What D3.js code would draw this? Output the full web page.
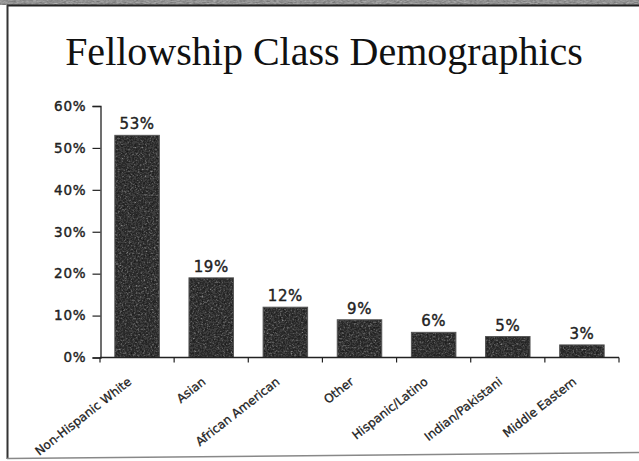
<!DOCTYPE html>
<html>
<head>
<meta charset="utf-8">
<script src="https://cdn.jsdelivr.net/npm/d3@7"></script>
<style>
  html, body { margin: 0; padding: 0; background: #fff; }
  svg { display: block; }
</style>
</head>
<body>
<svg id="chart" width="639" height="461"></svg>
<script>
// Fellowship class make-up, share of the class by group
const categories = ["Non-Hispanic White", "Asian", "African American", "Other",
                    "Hispanic/Latino", "Indian/Pakistani", "Middle Eastern"];
const shares = [0.53, 0.19, 0.12, 0.09, 0.06, 0.05, 0.03];
const valueLabels = ["53%", "19%", "12%", "9%", "6%", "5%", "3%"];
const yTickValues = [0, 0.1, 0.2, 0.3, 0.4, 0.5, 0.6];
const chartTitle = "Fellowship Class Demographics";

const svg = d3.select("#chart");
const W = 639, H = 461;

const defs = svg.append("defs");

// speckled dark fill for the bars
const grain = defs.append("filter").attr("id", "grain")
  .attr("color-interpolation-filters", "sRGB")
  .attr("x", 0).attr("y", 0).attr("width", 1).attr("height", 1);
grain.append("feTurbulence").attr("type", "fractalNoise")
  .attr("baseFrequency", 0.55).attr("numOctaves", 3).attr("seed", 4).attr("result", "noise");
grain.append("feColorMatrix").attr("in", "noise").attr("type", "matrix")
  .attr("values", "0.33 0.33 0.33 0 0  0.33 0.33 0.33 0 0  0.33 0.33 0.33 0 0  0 0 0 0 1")
  .attr("result", "gray");
const ct = grain.append("feComponentTransfer").attr("in", "gray").attr("result", "tone");
["feFuncR", "feFuncG", "feFuncB"].forEach(f =>
  ct.append(f).attr("type", "discrete")
    .attr("tableValues", "0.05 0.07 0.1 0.13 0.17 0.24 0.36 0.5 0.65 0.75"));
grain.append("feComposite").attr("in", "tone").attr("in2", "SourceGraphic").attr("operator", "in");

// mottled strip along the top edge
const strip = defs.append("filter").attr("id", "strip")
  .attr("color-interpolation-filters", "sRGB")
  .attr("x", 0).attr("y", 0).attr("width", 1).attr("height", 1);
strip.append("feTurbulence").attr("type", "fractalNoise")
  .attr("baseFrequency", "0.3 0.9").attr("numOctaves", 2).attr("seed", 9).attr("result", "n");
strip.append("feColorMatrix").attr("in", "n").attr("type", "matrix")
  .attr("values", "0.33 0.33 0.33 0 0  0.33 0.33 0.33 0 0  0.33 0.33 0.33 0 0  0 0 0 0 1")
  .attr("result", "g");
const ct2 = strip.append("feComponentTransfer").attr("in", "g").attr("result", "t");
["feFuncR", "feFuncG", "feFuncB"].forEach(f =>
  ct2.append(f).attr("type", "table").attr("tableValues", "0.3 0.85"));
strip.append("feComposite").attr("in", "t").attr("in2", "SourceGraphic").attr("operator", "in");

// page frame
svg.append("rect").attr("x", 0).attr("y", 0).attr("width", W).attr("height", 5)
  .attr("fill", "#999").attr("filter", "url(#strip)");
svg.append("line").attr("x1", 7).attr("x2", W).attr("y1", 5.5).attr("y2", 5.5)
  .attr("stroke", "#222").attr("stroke-width", 2);
svg.append("line").attr("x1", 7.5).attr("x2", 7.5).attr("y1", 5).attr("y2", 459)
  .attr("stroke", "#333").attr("stroke-width", 2);
svg.append("line").attr("x1", 7).attr("x2", W).attr("y1", 458.5).attr("y2", 452.5)
  .attr("stroke", "#888").attr("stroke-width", 1.5);

// title
svg.append("text")
  .attr("x", 324).attr("y", 65)
  .attr("text-anchor", "middle")
  .attr("font-family", "'Liberation Serif', 'Times New Roman', serif")
  .attr("font-size", 40)
  .attr("fill", "#111")
  .text(chartTitle);

// scales
const x = d3.scaleBand().domain(categories).range([100, 619])
  .paddingInner(0.4).paddingOuter(0.2);
const y = d3.scaleLinear().domain([0, 0.6]).range([357.5, 106]);

const sansFont = "'DejaVu Sans', 'Liberation Sans', Arial, sans-serif";

// y axis
const yAxis = d3.axisLeft(y).tickValues(yTickValues)
  .tickFormat(d3.format(".0%")).tickSize(8).tickPadding(6);
const gy = svg.append("g").attr("transform", "translate(100.5,0)").call(yAxis);
gy.select(".domain").attr("stroke", "#222").attr("stroke-width", 1.3);
gy.selectAll(".tick line").attr("stroke", "#222").attr("stroke-width", 1.2);
gy.selectAll(".tick text")
  .attr("font-family", sansFont).attr("font-size", 13.5)
  .attr("letter-spacing", 0.8)
  .attr("fill", "#222").attr("stroke", "#222").attr("stroke-width", 0.4);

// bars
const bars = svg.append("g");
bars.selectAll("rect.fill").data(shares).join("rect")
  .attr("class", "fill")
  .attr("x", (d, i) => x(categories[i]))
  .attr("y", d => y(d))
  .attr("width", x.bandwidth())
  .attr("height", d => y(0) - y(d))
  .attr("fill", "#333")
  .attr("filter", "url(#grain)");
bars.selectAll("rect.edge").data(shares).join("rect")
  .attr("class", "edge")
  .attr("x", (d, i) => x(categories[i]))
  .attr("y", d => y(d))
  .attr("width", x.bandwidth())
  .attr("height", d => y(0) - y(d))
  .attr("fill", "none")
  .attr("stroke", "#555").attr("stroke-width", 1);

// value labels
svg.append("g").selectAll("text").data(shares).join("text")
  .attr("x", (d, i) => x(categories[i]) + x.bandwidth() / 2)
  .attr("y", d => y(d) - 6)
  .attr("text-anchor", "middle")
  .attr("font-family", sansFont).attr("font-size", 15)
  .attr("letter-spacing", 0.6)
  .attr("fill", "#222").attr("stroke", "#222").attr("stroke-width", 0.4)
  .text((d, i) => valueLabels[i]);

// x axis with ticks at category boundaries
const y0 = y(0);
const gx = svg.append("g");
gx.append("line").attr("x1", x.range()[0]).attr("x2", x.range()[1])
  .attr("y1", y0).attr("y2", y0).attr("stroke", "#222").attr("stroke-width", 1.3);
gx.selectAll("line.tick").data(d3.range(categories.length + 1)).join("line")
  .attr("class", "tick")
  .attr("x1", i => x.range()[0] + i * x.step())
  .attr("x2", i => x.range()[0] + i * x.step())
  .attr("y1", y0).attr("y2", y0 + 5)
  .attr("stroke", "#222").attr("stroke-width", 1.2);

// rotated category labels
gx.selectAll("text").data(categories).join("text")
  .attr("transform", d => `translate(${x(d) + x.bandwidth() / 2 - 10},${y0 + 19}) rotate(-38)`)
  .attr("dy", "0.71em")
  .attr("text-anchor", "end")
  .attr("font-family", sansFont).attr("font-size", 12)
  .attr("fill", "#222").attr("stroke", "#222").attr("stroke-width", 0.3)
  .text(d => d);
</script>
</body>
</html>
